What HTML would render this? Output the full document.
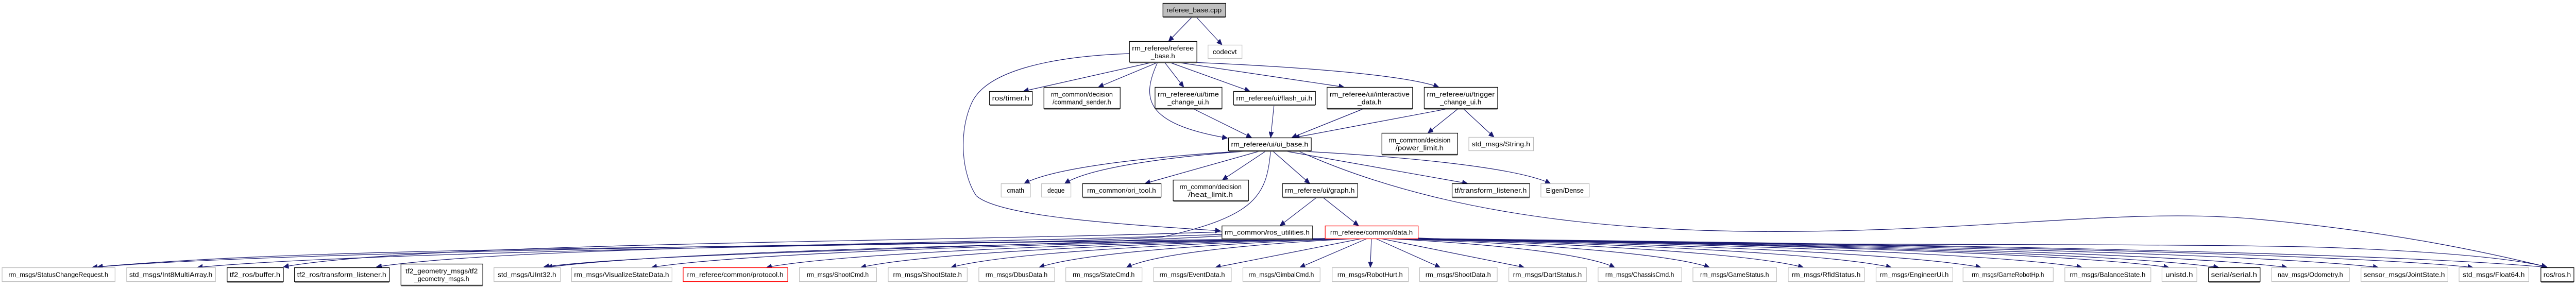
<!DOCTYPE html>
<html><head><meta charset="utf-8"><style>
html,body{margin:0;padding:0;background:#fff;overflow:hidden;width:100vw;height:100vh;}
svg{display:block;position:absolute;left:0;top:0;}
text{font-family:"Liberation Sans",sans-serif;font-size:13px;fill:#000;}
</style></head><body>
<svg id="s" width="100%" height="100%" preserveAspectRatio="none" viewBox="0 0 5541 559" xmlns="http://www.w3.org/2000/svg">
<defs><marker id="a" markerUnits="userSpaceOnUse" markerWidth="12" markerHeight="10" refX="11" refY="5" orient="auto"><path d="M0,0 L11,5 L0,10 Z" fill="#191970" stroke="#191970"/></marker></defs>
<g id="edges" fill="none" stroke="#191970" stroke-width="1.2"></g>
<g id="nodes"></g>
</svg>
<script>
var N={
cpp:[2501,6,2636,32,'root',['referee_base.cpp']],
rbh:[2429,80,2574,120,'b',['rm_referee/referee','_base.h']],
codecvt:[2598,87,2671,113,'g',['codecvt']],
timer:[2128,177,2220,203,'b',['ros/timer.h']],
cmd:[2245,169,2409,210,'b',['rm_common/decision','/command_sender.h']],
time:[2484,169,2628,210,'b',['rm_referee/ui/time','_change_ui.h']],
flash:[2653,177,2829,203,'b',['rm_referee/ui/flash_ui.h']],
inter:[2854,169,3038,210,'b',['rm_referee/ui/interactive','_data.h']],
trig:[3063,169,3221,210,'b',['rm_referee/ui/trigger','_change_ui.h']],
ui:[2642,267,2820,292,'b',['rm_referee/ui/ui_base.h']],
power:[2972,258,3135,299,'b',['rm_common/decision','/power_limit.h']],
string:[3159,266,3298,292,'g',['std_msgs/String.h']],
cmath:[2153,356,2216,382,'g',['cmath']],
deque:[2240,356,2303,382,'g',['deque']],
ori:[2328,356,2497,382,'b',['rm_common/ori_tool.h']],
heat:[2523,349,2685,389,'b',['rm_common/decision','/heat_limit.h']],
graph:[2758,356,2920,382,'b',['rm_referee/ui/graph.h']],
tfl:[3123,356,3290,382,'b',['tf/transform_listener.h']],
eigen:[3314,356,3418,382,'g',['Eigen/Dense']],
util:[2628,438,2823,463,'b',['rm_common/ros_utilities.h']],
data:[2850,438,3050,463,'r',['rm_referee/common/data.h']]
};
var B=[
[4,247,'g','rm_msgs/StatusChangeRequest.h'],
[272,463,'g','std_msgs/Int8MultiArray.h'],
[488,609,'b','tf2_ros/buffer.h'],
[633,837,'b','tf2_ros/transform_listener.h'],
[862,1038,'b2','tf2_geometry_msgs/tf2','_geometry_msgs.h'],
[1062,1205,'g','std_msgs/UInt32.h'],
[1229,1445,'g','rm_msgs/VisualizeStateData.h'],
[1469,1694,'r','rm_referee/common/protocol.h'],
[1719,1885,'g','rm_msgs/ShootCmd.h'],
[1910,2080,'g','rm_msgs/ShootState.h'],
[2105,2268,'g','rm_msgs/DbusData.h'],
[2292,2456,'g','rm_msgs/StateCmd.h'],
[2481,2648,'g','rm_msgs/EventData.h'],
[2673,2839,'g','rm_msgs/GimbalCmd.h'],
[2865,3029,'g','rm_msgs/RobotHurt.h'],
[3053,3220,'g','rm_msgs/ShootData.h'],
[3245,3412,'g','rm_msgs/DartStatus.h'],
[3437,3617,'g','rm_msgs/ChassisCmd.h'],
[3641,3821,'g','rm_msgs/GameStatus.h'],
[3846,4010,'g','rm_msgs/RfidStatus.h'],
[4035,4200,'g','rm_msgs/EngineerUi.h'],
[4222,4416,'g','rm_msgs/GameRobotHp.h'],
[4441,4626,'g','rm_msgs/BalanceState.h'],
[4650,4725,'g','unistd.h'],
[4750,4861,'b','serial/serial.h'],
[4886,5053,'g','nav_msgs/Odometry.h'],
[5078,5265,'g','sensor_msgs/JointState.h'],
[5289,5439,'g','std_msgs/Float64.h'],
[5465,5536,'b','ros/ros.h']
];
B.forEach(function(b,i){
  if(b[2]=='b2') N['B'+i]=[b[0],512,b[1],553,'b',[b[3],b[4]]];
  else N['B'+i]=[b[0],519,b[1],546,b[2],[b[3]]];
});
var ns='http://www.w3.org/2000/svg';
var G=document.getElementById('nodes'),E=document.getElementById('edges');
function el(t,a,p){var e=document.createElementNS(ns,t);for(var k in a)e.setAttribute(k,a[k]);p.appendChild(e);return e;}
for(var k in N){var n=N[k];var w=n[2]-n[0],h=n[3]-n[1];
  var st=n[4]=='g'?'#bfbfbf':(n[4]=='r'?'#ff0000':'#000');
  var fill=n[4]=='root'?'#bfbfbf':'#fff';
  el('rect',{x:n[0]+0.5,y:n[1]+0.5,width:w,height:h,fill:fill,stroke:st,'stroke-width':1.3},G);
  if(n[4]=='b'||n[4]=='root'){el('line',{x1:n[0]+1,y1:n[3]+1.5,x2:n[2],y2:n[3]+1.5,stroke:'#555','stroke-width':2},G);}
  var L=n[5];
  L.forEach(function(t,i){
    var y=L.length==1?n[1]+h/2+5:n[1]+h/2-2+i*15;
    var tx=el('text',{x:n[0]+w/2,y:y,'text-anchor':'middle',textLength:Math.min(w-12,t.length*7.4),lengthAdjust:'spacingAndGlyphs'},G);
    tx.textContent=t;
  });
}
function ctr(k){var n=N[k];return [(n[0]+n[2])/2,n[1],n[3],n[2]-n[0]];}
function edge(s,t){
  var S=N[s],T=ctr(t);var scx=(S[0]+S[2])/2;
  var tx=T[0]+Math.max(-0.3,Math.min(0.3,(scx-T[0])/800))*T[3];
  var sx=scx+(tx-scx)*0.06;sx=Math.max(S[0]+4,Math.min(S[2]-4,sx));
  var sy=S[3],ty=T[1];
  var d;
  if(Math.abs(tx-sx)<400) d='M'+sx+','+sy+' L'+tx+','+ty;
  else d='M'+sx+','+sy+' C'+(sx+(tx-sx)*0.5)+','+(sy+(ty-sy)*0.2)+' '+(tx+(sx-tx)*0.12)+','+(ty-(ty-sy)*0.45)+' '+tx+','+ty;
  el('path',{d:d,'marker-end':'url(#a)'},E);
}
function path(d){el('path',{d:d,'marker-end':'url(#a)'},E);}
edge('cpp','rbh');edge('cpp','codecvt');
['timer','cmd','time','flash','inter','trig'].forEach(function(t){edge('rbh',t);});
['time','flash','inter','trig'].forEach(function(t){edge(t,'ui');});
edge('trig','power');edge('trig','string');
['cmath','deque','ori','heat','graph','tfl','eigen'].forEach(function(t){edge('ui',t);});
edge('graph','util');edge('graph','data');
path('M2429,104 C2250,110 2120,140 2090,200 C2060,260 2070,340 2100,380 C2150,420 2400,435 2625,448');
path('M2490,121 C2455,190 2460,240 2640,268');
path('M2790,292 C3150,440 3600,455 3950,448 C4350,440 4600,405 4850,425 C5150,450 5350,490 5478,518');
path('M2733,293 C2725,380 2700,420 2500,460 C2000,485 800,470 210,518');
path('M2628,450 C2000,470 900,470 610,518');
path('M2628,455 C2000,475 1100,478 810,518');
path('M2628,458 C2200,480 1400,490 1170,518');
for(var i=0;i<B.length;i++){ if(i==2||i==3||i==4) continue; edge('data','B'+i);}
path('M3050,462 C3600,480 4600,470 5000,480 C5300,490 5420,505 5478,518');
</script>
</body></html>
